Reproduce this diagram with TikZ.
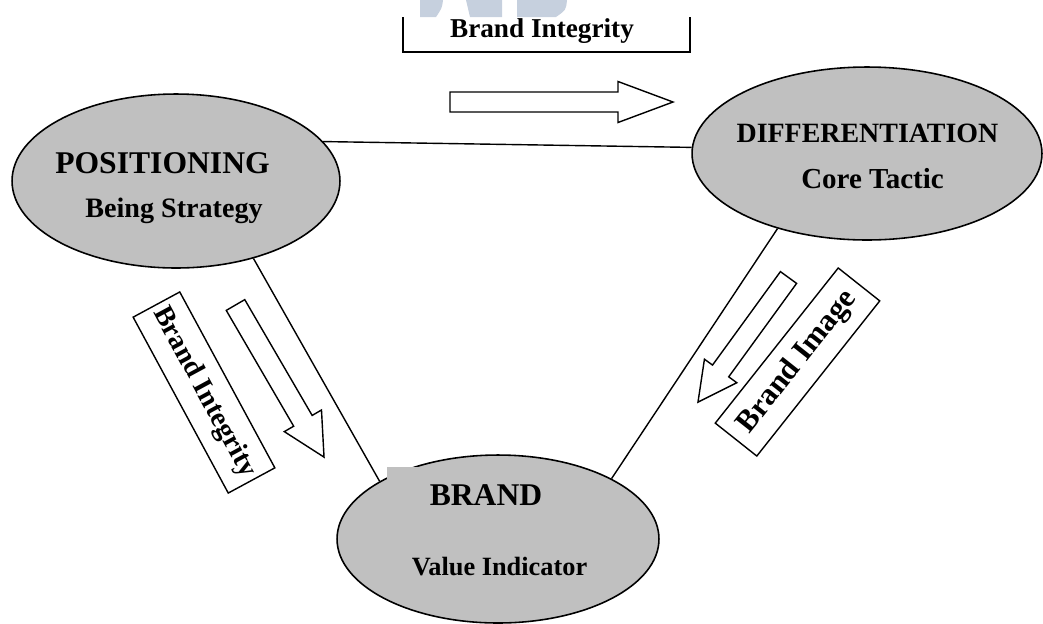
\documentclass[tikz,border=0pt]{standalone}
\usepackage{fontspec}
\setmainfont{Liberation Serif}
\usetikzlibrary{shapes.geometric}

\definecolor{ovalgray}{RGB}{192,192,192}
\definecolor{logoblue}{RGB}{198,208,222}

\tikzset{
    oval/.style={ellipse, draw, fill=ovalgray, line width=0.9pt, inner sep=0pt},
    ovaltext/.style={font=\bfseries\fontsize{#1}{#1}\selectfont, inner sep=0pt, anchor=base},
    tagbox/.style={draw, line width=0.8pt, minimum width=4cm, minimum height=1.06cm,
        inner sep=0pt, font=\bfseries\fontsize{#1}{#1}\selectfont},
    link/.style={line width=0.8pt},
    hollow/.style={draw, line width=0.8pt, fill=white}
}

% block arrow: start, angle, length, head length, head half width, shaft half width
\newcommand{\blockarrow}[6]{%
    \draw[hollow, shift={#1}, rotate=#2] (0,#6) -- (#3-#4,#6) -- (#3-#4,#5) -- (#3,0)
        -- (#3-#4,-#5) -- (#3-#4,-#6) -- (0,-#6) -- cycle;}

\begin{document}
\begin{tikzpicture}[x=0.02cm, y=-0.02cm]
    \useasboundingbox (0,0) rectangle (1043,623);

    % faded logo on the top edge
    \begin{scope}
        \clip (420,0) rectangle (576,17);
        \fill[logoblue] (420,0) -- (443,0) .. controls (442,8) .. (436,17) -- (420,17) -- cycle;
        \fill[logoblue] (466,0) -- (502,0) -- (502,17) -- (470,17) -- cycle;
        \fill[logoblue] (517,0) -- (567,0) .. controls (566,10) .. (556,17) -- (517,17) -- cycle;
    \end{scope}

    % open box at the top
    \draw[link] (403,17) -- (403,52) -- (690,52) -- (690,17);
    \node[ovaltext=15.5] (topTag) at (542,37) {Brand Integrity};

    % hollow arrows
    \blockarrow{(450,102)}{0}{223}{55}{20.5}{10}
    \blockarrow{(235.5,305)}{-59.8}{176}{42}{21.5}{10.7}
    \blockarrow{(788.5,277.5)}{-126}{154}{38.5}{20}{10}

    % tilted labels
    \node[tagbox=16, rotate=-61.6] (leftTag) at (204,392.5) {Brand Integrity};
    \node[tagbox=17.5, minimum width=3.96cm, rotate=51.6] (rightTag) at (797.5,362) {Brand Image};

    % the three ovals
    \node[oval, minimum width=6.56cm, minimum height=3.48cm] (pos) at (176,181) {};
    \node[oval, minimum width=7cm, minimum height=3.46cm] (diff) at (867,153.5) {};
    \node[oval, minimum width=6.44cm, minimum height=3.36cm] (brand) at (498,539) {};
    \fill[ovalgray] (387,467) rectangle (424,492);

    \node[ovaltext=18] (posName) at (162.5,173) {POSITIONING};
    \node[ovaltext=16] (posRole) at (174,217) {Being Strategy};
    \node[ovaltext=15.9] (diffName) at (867.5,142) {DIFFERENTIATION};
    \node[ovaltext=16.5] (diffRole) at (872.5,188) {Core Tactic};
    \node[ovaltext=18] (brandName) at (486,505) {BRAND};
    \node[ovaltext=15] (brandRole) at (499.5,575) {Value Indicator};

    % links between the ovals
    \draw[link] (pos.15) -- (diff.178);
    \draw[link] (pos.-45) -- (brand.154);
    \draw[link] (diff.220) -- (brand.28);
\end{tikzpicture}
\end{document}
